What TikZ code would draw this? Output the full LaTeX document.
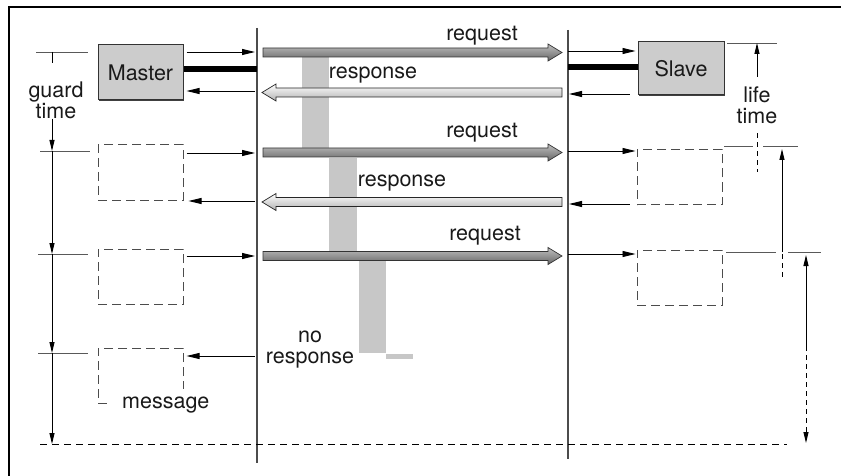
\documentclass[tikz,border=0pt]{standalone}
\usepackage{fontspec}
\setmainfont{TeX Gyre Heros}
\usetikzlibrary{arrows.meta,calc,shadows}

% fat message arrow: #1 style, #2 back offset of head (-14 = to the right, 14 = to the left), #3 tail, #4 tip
\newcommand\fatarrow[4]{%
  \path[#1] ($(#3)+(0,-4.5)$) -- ($(#4)+(#2,-4.5)$) -- ($(#4)+(#2,-8.5)$) -- (#4)
    -- ($(#4)+(#2,8.5)$) -- ($(#4)+(#2,4.5)$) -- ($(#3)+(0,4.5)$) -- cycle;}

\begin{document}
\begin{tikzpicture}[x=1pt,y=-1pt,line cap=butt,line join=miter,
    every node/.style={font=\fontsize{21.5}{21}\selectfont, align=center, inner sep=0pt, text=black!90},
    unit/.style={draw=black!80, line width=1pt, fill=black!20, minimum width=85pt, minimum height=55pt,
                 drop shadow={shadow xshift=1.3pt, shadow yshift=-1.3pt, fill=black!75, opacity=1}},
    ghost/.style={draw=black!70, line width=1pt, dash pattern=on 9pt off 5pt,
                  minimum width=85pt, minimum height=55pt},
    bus/.style={draw=black!70, line width=1.1pt},
    link/.style={line width=5.5pt},
    sig/.style={line width=0.9pt, -{Triangle[length=13pt,width=6pt]}},
    tickline/.style={draw=black!65, line width=0.9pt},
    dimarrow/.style={line width=0.9pt, -{Triangle[length=11pt,width=5pt]}},
    dimdash/.style={line width=0.9pt, dash pattern=on 5pt off 4pt},
    busy/.style={fill=black!22},
    reqarrow/.style={draw=black!80, line width=0.7pt, top color=black!25, bottom color=black!60},
    resarrow/.style={draw=black!85, line width=0.7pt, top color=white, bottom color=black!30}]
\useasboundingbox (0,0) rectangle (841,476);
% ---- frame (top and left only) ----
\draw[line width=1.5pt] (9,476) -- (9,7) -- (841,7);
% ---- busy periods of the bus (grey bars, behind) ----
\fill[busy] (302,57) rectangle (329,148);
\fill[busy] (329,158) rectangle (357,251);
\fill[busy] (359,261) rectangle (386,353);
\fill[busy] (386,354) rectangle (413,359);
% ---- bus lines ----
\coordinate (mtop) at (257,28);\coordinate (mbot) at (257,463);
\coordinate (stop) at (568,30);\coordinate (sbot) at (568,459);
\draw[bus] (mtop) -- (mbot);
\draw[bus] (stop) -- (sbot);
% ---- stations ----
\node[unit] (Master) at (140.5,72.5) {Master};
\node[unit, minimum width=86pt, minimum height=53pt] (Slave) at (681,68.5) {Slave};
\node[ghost] (m2) at (140.5,172.5) {};
\node[ghost] (m3) at (140.5,276.5) {};
\node[ghost] (m4) at (140.5,375.5) {};
\node[ghost] (s2) at (679.5,177) {};
\node[ghost] (s3) at (679.5,277.5) {};
\node[fill=white, minimum height=32pt, inner xsep=13pt, anchor=west] (msg) at (109,405) {message};
% ---- station links ----
\draw[link] ($(Master.east)+(0,-3.5)$) -- ($(Master.east -| mtop)+(0,-3.5)$);
\draw[link] (Slave.west |- 0,67) -- (stop |- 0,67);
% ---- taps on the master side ----
\coordinate (ma1) at (257,52);\coordinate (ma2) at (257,91);
\coordinate (ma3) at (257,153);\coordinate (ma4) at (257,201);
\coordinate (ma5) at (257,256);\coordinate (ma6) at (257,356);
\draw[sig] ($(Master.east |- ma1)+(3,0)$) -- ($(ma1)+(-2,0)$);
\draw[sig] ($(ma2)+(-2,0)$) -- ($(Master.east |- ma2)+(3,0)$);
\draw[sig] ($(m2.east |- ma3)+(3,0)$) -- ($(ma3)+(-2,0)$);
\draw[sig] ($(ma4)+(-2,0)$) -- ($(m2.east |- ma4)+(5,0)$);
\draw[sig] ($(m3.east |- ma5)+(3,0)$) -- ($(ma5)+(-2,0)$);
\draw[sig] ($(ma6)+(-2,0)$) -- ($(m4.east |- ma6)+(3,0)$);
% ---- taps on the slave side ----
\coordinate (sa1) at (568,51);\coordinate (sa2) at (568,94);
\coordinate (sa3) at (568,151);\coordinate (sa4) at (568,204);
\coordinate (sa5) at (568,254);
\draw[sig] (sa1) -- ($(Slave.west |- sa1)+(-2,0)$);
\draw[sig] ($(Slave.west |- sa2)+(-8,0)$) -- ($(sa2)+(1,0)$);
\draw[sig] (sa3) -- ($(s2.west |- sa3)+(-1,0)$);
\draw[sig] ($(s2.west |- sa4)+(-7,0)$) -- ($(sa4)+(1,0)$);
\draw[sig] (sa5) -- ($(s3.west |- sa5)+(-1,0)$);
% ---- telegrams on the bus ----
\fatarrow{reqarrow}{-14}{263,52.5}{562,52.5}
\fatarrow{resarrow}{14}{562,92.5}{262,92.5}
\fatarrow{reqarrow}{-14}{263,152.5}{562,152.5}
\fatarrow{resarrow}{14}{562,202}{262,202}
\fatarrow{reqarrow}{-14}{263,256}{562,256}
\node (rq1) at (482,36) {request};
\node (rs1) at (373,75) {response};
\node (rq2) at (482,133) {request};
\node (rs2) at (402,183) {response};
\node (rq3) at (485,236) {request};
\node (nores) at (310,350) {no\\response};
% ---- guard time ----
\coordinate (g1) at (52,52);\coordinate (g2) at (52,151);
\coordinate (g3) at (52,254);\coordinate (g4) at (52,353);
\coordinate (g5) at (52,444);
\node (guard) at (56,100) {guard\\time};
\draw[tickline] ($(g1)+(-16,0)$) -- ($(g1)+(36,0)$);
\draw[tickline] ($(g2)+(-12,0)$) -- ($(g2)+(38,0)$);
\draw[tickline] ($(g3)+(-14,0)$) -- ($(g3)+(36,0)$);
\draw[tickline] ($(g4)+(-14,0)$) -- ($(g4)+(36,0)$);
\draw[line width=0.9pt] (g1) -- ++(0,11);
\draw[dimarrow] (guard.south -| g1) -- (g2);
\draw[dimarrow] (g2) -- (g3);
\draw[dimarrow] (g3) -- (g4);
\draw[dimarrow] (g4) -- (g5);
\draw[dimdash, dash pattern=on 7pt off 5pt] ($(g5)+(-12,0)$) -- (787,444);
% ---- life time ----
\coordinate (l1) at (757,43);\coordinate (l2) at (782,146);
\coordinate (l3) at (806,252);
\node (life) at (757,105.5) {life\\time};
\draw[tickline] ($(l1)+(-30,0)$) -- ($(l1)+(20,0)$);
\draw[tickline] (724,146) -- (753,146) (763,146) -- (798,146);
\draw[tickline] (726,252) -- (776,252) (788,252) -- (821,252);
\draw[dimarrow] ($(life.north)+(0,-10)$) -- (l1);
\draw[dimdash] ($(life.south)+(0,9)$) -- (757,172);
\draw[dimarrow, shorten >=3pt] (782,252) -- (l2);
\draw[dimdash] (782,254) -- (782,278);
\draw[dimarrow, shorten >=3pt] (806,346) -- (l3);
\draw[dimdash, -{Triangle[length=11pt,width=5pt]}] (806,346) -- (806,443);
\end{tikzpicture}
\end{document}
